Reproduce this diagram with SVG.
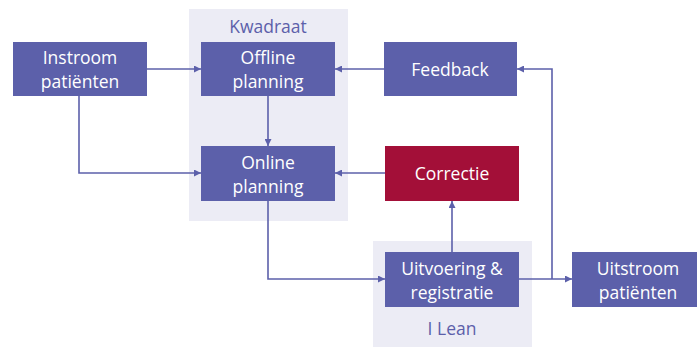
<svg xmlns="http://www.w3.org/2000/svg" width="697" height="347" viewBox="0 0 697 347">
  <style>
    .zone { fill: #ECECF5; }
    .box { fill: #5C60AA; }
    .alert { fill: #A30F38; }
    .lbl { font-family: "Open Sans", "Noto Sans", sans-serif; font-size: 17.5px; fill: #FFFFFF; text-anchor: middle; }
    .zlbl { font-family: "Open Sans", "Noto Sans", sans-serif; font-size: 17.5px; fill: #5C60AA; text-anchor: middle; }
    .wire { fill: none; stroke: #5C60AA; stroke-width: 1.6; marker-end: url(#tip); }
  </style>
  <defs>
    <marker id="tip" viewBox="0 0 10 10" refX="10" refY="5" markerWidth="7" markerHeight="7" markerUnits="userSpaceOnUse" orient="auto">
      <path d="M0,0 L10,5 L0,10 z" fill="#5C60AA"/>
    </marker>
  </defs>

  <!-- background zones -->
  <g id="zone-kwadraat">
    <rect class="zone" x="189" y="9" width="159" height="212"/>
    <text class="zlbl" x="268" y="33">Kwadraat</text>
  </g>
  <g id="zone-ilean">
    <rect class="zone" x="373" y="241" width="159" height="106"/>
    <text class="zlbl" x="452" y="335">I Lean</text>
  </g>

  <!-- connectors -->
  <g id="connectors">
    <path class="wire" d="M147,69 H201"/>
    <path class="wire" d="M79,96 V173 H201"/>
    <path class="wire" d="M268,96 V146"/>
    <path class="wire" d="M384,69 H335"/>
    <path class="wire" d="M385,173 H335"/>
    <path class="wire" d="M268,201 V279 H385"/>
    <path class="wire" d="M452,252 V201"/>
    <path class="wire" d="M519,279 H572"/>
    <path class="wire" d="M552,279 V69 H517"/>
  </g>

  <!-- nodes -->
  <g id="instroom">
    <rect class="box" x="13" y="42" width="134" height="54"/>
    <text class="lbl" x="80" y="64">Instroom</text>
    <text class="lbl" x="80" y="88">patiënten</text>
  </g>
  <g id="offline">
    <rect class="box" x="201" y="42" width="134" height="54"/>
    <text class="lbl" x="268" y="64">Offline</text>
    <text class="lbl" x="268" y="88">planning</text>
  </g>
  <g id="online">
    <rect class="box" x="201" y="146" width="134" height="55"/>
    <text class="lbl" x="268" y="169">Online</text>
    <text class="lbl" x="268" y="193">planning</text>
  </g>
  <g id="feedback">
    <rect class="box" x="384" y="42" width="133" height="54"/>
    <text class="lbl" x="450" y="76">Feedback</text>
  </g>
  <g id="correctie">
    <rect class="alert" x="385" y="146" width="134" height="55"/>
    <text class="lbl" x="452" y="180">Correctie</text>
  </g>
  <g id="uitvoering">
    <rect class="box" x="385" y="252" width="134" height="55"/>
    <text class="lbl" x="452" y="275">Uitvoering &amp;</text>
    <text class="lbl" x="452" y="299">registratie</text>
  </g>
  <g id="uitstroom">
    <rect class="box" x="572" y="252" width="125" height="55"/>
    <text class="lbl" x="638" y="275">Uitstroom</text>
    <text class="lbl" x="638" y="299">patiënten</text>
  </g>
</svg>
